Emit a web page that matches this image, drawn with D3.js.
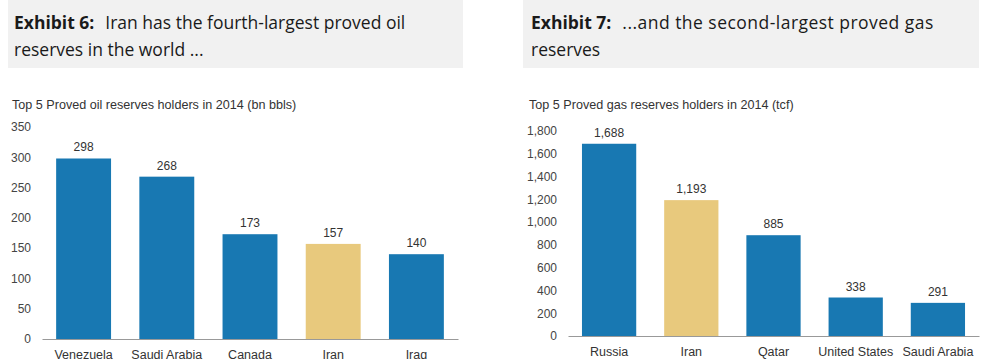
<!DOCTYPE html>
<html>
<head>
<meta charset="utf-8">
<script src="https://cdn.jsdelivr.net/npm/d3@7/dist/d3.min.js"></script>
<style>
  html, body { margin: 0; padding: 0; background: #fff; }
  svg { display: block; }
</style>
</head>
<body>
<svg id="chart" width="1000" height="359"></svg>
<script>
// ---- Data ----
const oilCountries = ["Venezuela", "Saudi Arabia", "Canada", "Iran", "Iraq"];
const oilValues = [298, 268, 173, 157, 140];
const oilTicks = [0, 50, 100, 150, 200, 250, 300, 350];

const gasCountries = ["Russia", "Iran", "Qatar", "United States", "Saudi Arabia"];
const gasValues = [1688, 1193, 885, 338, 291];
const gasTicks = [0, 200, 400, 600, 800, 1000, 1200, 1400, 1600, 1800];

const highlight = "Iran";

const titles = [
  { bold: "Exhibit 6:", lines: ["Iran has the fourth-largest proved oil", "reserves in the world ..."] },
  { bold: "Exhibit 7:", lines: ["...and the second-largest proved gas", "reserves"] }
];
const subtitles = [
  "Top 5 Proved oil reserves holders in 2014 (bn bbls)",
  "Top 5 Proved gas reserves holders in 2014 (tcf)"
];

// ---- Drawing ----
const svg = d3.select("#chart");
const BLUE = "#1878b2", GOLD = "#e8c97d";
const titleFont = "'Open Sans', 'Noto Sans', sans-serif";
const chartFont = "'Liberation Sans', Arial, sans-serif";

const panels = [
  { x0: 8, x1: 463, tx: 14, sx: 12, axisX: [42, 458], y0: 339, yTop: 127, line1W: null,
    cats: oilCountries, vals: oilValues, ticks: oilTicks, max: 350, fmt: d3.format("d"),
    title: titles[0], sub: subtitles[0] },
  { x0: 523, x1: 979, tx: 531, sx: 529, axisX: [568, 979], y0: 336, yTop: 131, line1W: 311,
    cats: gasCountries, vals: gasValues, ticks: gasTicks, max: 1800, fmt: d3.format(","),
    title: titles[1], sub: subtitles[1] }
];

panels.forEach(p => {
  const g = svg.append("g");
  // header box
  g.append("rect").attr("x", p.x0).attr("y", 0).attr("width", p.x1 - p.x0).attr("height", 68)
    .attr("fill", "#f1f1f1");
  const t1 = g.append("text").attr("x", p.tx).attr("y", 29)
    .attr("font-family", titleFont).attr("font-size", 17.5).attr("fill", "#1a1a1a");
  t1.append("tspan").attr("font-weight", "bold").text(p.title.bold);
  const main = t1.append("tspan").attr("dx", 11).text(p.title.lines[0]);
  if (p.line1W) main.attr("textLength", p.line1W).attr("lengthAdjust", "spacing");
  g.append("text").attr("x", p.tx).attr("y", 56)
    .attr("font-family", titleFont).attr("font-size", 17.5).attr("fill", "#1a1a1a")
    .text(p.title.lines[1]);

  // subtitle
  g.append("text").attr("x", p.sx).attr("y", 108.5)
    .attr("font-family", chartFont).attr("font-size", 12.6).attr("fill", "#333")
    .text(p.sub);

  const x = d3.scaleBand().domain(p.cats).range(p.axisX).paddingInner(0.34).paddingOuter(0.17);
  const y = d3.scaleLinear().domain([0, p.max]).range([p.y0, p.yTop]);

  // y axis
  const ya = g.append("g").attr("transform", `translate(${p.axisX[0]},0)`)
    .call(d3.axisLeft(y).tickValues(p.ticks).tickSize(0).tickPadding(11).tickFormat(p.fmt));
  ya.select(".domain").remove();
  ya.selectAll("text").attr("font-family", chartFont).attr("font-size", 12).attr("fill", "#444");

  // bars
  g.selectAll("rect.bar").data(p.cats).join("rect").attr("class", "bar")
    .attr("x", d => x(d)).attr("width", x.bandwidth())
    .attr("y", (d, i) => y(p.vals[i])).attr("height", (d, i) => p.y0 - y(p.vals[i]))
    .attr("fill", d => d === highlight ? GOLD : BLUE);

  // value labels
  g.selectAll("text.val").data(p.cats).join("text").attr("class", "val")
    .attr("x", d => x(d) + x.bandwidth() / 2)
    .attr("y", (d, i) => y(p.vals[i]) - 7)
    .attr("text-anchor", "middle")
    .attr("font-family", chartFont).attr("font-size", 12).attr("fill", "#333")
    .text((d, i) => p.fmt(p.vals[i]));

  // x axis
  const xa = g.append("g").attr("transform", `translate(0,${p.y0})`)
    .call(d3.axisBottom(x).tickSize(0).tickPadding(11));
  xa.select(".domain").attr("stroke", "#999").attr("stroke-width", 1.2);
  xa.selectAll("text").attr("font-family", chartFont).attr("font-size", 12.5).attr("fill", "#333");
});
</script>
</body>
</html>
